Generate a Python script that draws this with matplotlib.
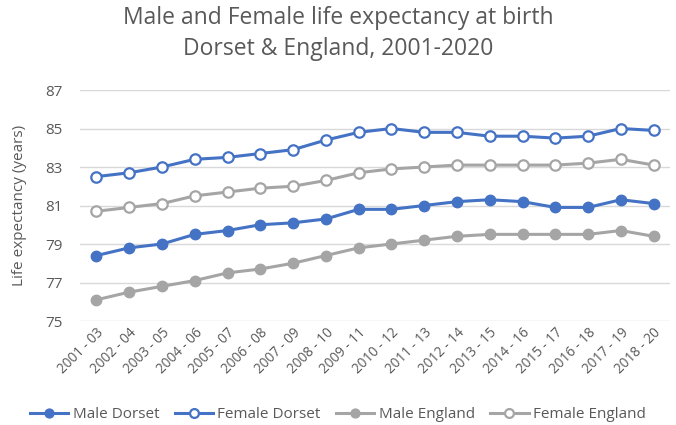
import matplotlib
matplotlib.use("Agg")
import matplotlib.pyplot as plt

periods = ["2001 - 03", "2002 - 04", "2003 - 05", "2004 - 06", "2005 - 07", "2006 - 08",
           "2007 - 09", "2008 - 10", "2009 - 11", "2010 - 12", "2011 - 13", "2012 - 14",
           "2013 - 15", "2014 - 16", "2015 - 17", "2016 - 18", "2017 - 19", "2018 - 20"]
male_dorset = [78.4, 78.8, 79.0, 79.5, 79.7, 80.0, 80.1, 80.3, 80.8, 80.8,
               81.0, 81.2, 81.3, 81.2, 80.9, 80.9, 81.3, 81.1]
female_dorset = [82.5, 82.7, 83.0, 83.4, 83.5, 83.7, 83.9, 84.4, 84.8, 85.0,
                 84.8, 84.8, 84.6, 84.6, 84.5, 84.6, 85.0, 84.9]
male_england = [76.1, 76.5, 76.8, 77.1, 77.5, 77.7, 78.0, 78.4, 78.8, 79.0,
                79.2, 79.4, 79.5, 79.5, 79.5, 79.5, 79.7, 79.4]
female_england = [80.7, 80.9, 81.1, 81.5, 81.7, 81.9, 82.0, 82.3, 82.7, 82.9,
                  83.0, 83.1, 83.1, 83.1, 83.1, 83.2, 83.4, 83.1]
yticks = [75, 77, 79, 81, 83, 85, 87]

BLUE = "#4472C4"
GRAY = "#A5A5A5"
TXT = "#595959"

plt.rcParams['font.family'] = ['Open Sans', 'DejaVu Sans']

fig = plt.figure(figsize=(6.76, 4.25), dpi=100)
ax = fig.add_axes([80/676, 1 - 321/425, 590/676, 231/425])

x = list(range(len(periods)))
lw = 2.2
ms = 7.5
ax.plot(x, male_dorset, color=BLUE, lw=lw, marker='o', ms=ms, mfc=BLUE, mec=BLUE, label="Male Dorset", zorder=3)
ax.plot(x, female_dorset, color=BLUE, lw=lw, marker='o', ms=ms, mfc='white', mec=BLUE, mew=1.6, label="Female Dorset", zorder=3)
ax.plot(x, male_england, color=GRAY, lw=lw, marker='o', ms=ms, mfc=GRAY, mec=GRAY, label="Male England", zorder=3)
ax.plot(x, female_england, color=GRAY, lw=lw, marker='o', ms=ms, mfc='white', mec=GRAY, mew=1.6, label="Female England", zorder=3)

ax.set_xlim(-0.5, len(periods) - 0.5)
ax.set_ylim(75, 87)
ax.set_yticks(yticks)
ax.set_yticklabels([str(v) for v in yticks], fontsize=11, color=TXT)
ax.set_xticks(x)
ax.set_xticklabels(periods, rotation=45, ha='right', rotation_mode='anchor', fontsize=9.8, color=TXT)
ax.grid(axis='y', color='#D9D9D9', lw=1)
ax.set_axisbelow(True)
for s in ax.spines.values():
    s.set_visible(False)
ax.tick_params(axis='y', length=0, pad=12.5)
ax.tick_params(axis='x', length=0, pad=3)
ax.set_ylabel("Life expectancy (years)", fontsize=11, color=TXT, labelpad=13)

fig.text(0.5, 1 - 18/425, "Male and Female life expectancy at birth", ha='center', va='center', fontsize=16.5, color=TXT)
fig.text(0.5, 1 - 49/425, "Dorset & England, 2001-2020", ha='center', va='center', fontsize=16.5, color=TXT)

leg = fig.legend(loc='center', bbox_to_anchor=(0.5, 1 - 415/425), ncol=4, frameon=False,
                 fontsize=11, handlelength=2.5, columnspacing=1.0, handletextpad=0.3, markerscale=0.85)
for t in leg.get_texts():
    t.set_color(TXT)

fig.savefig("out.png", dpi=100)
